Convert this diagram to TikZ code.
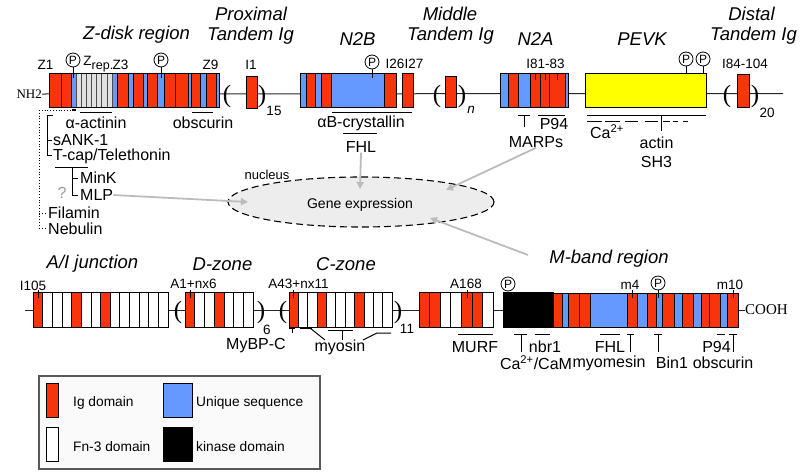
\documentclass[tikz,border=0pt]{standalone}
\usepackage{fontspec}
\setmainfont{Liberation Sans}
\newfontfamily\tmsfont{Liberation Serif}
\usetikzlibrary{arrows.meta,shapes.geometric}
\definecolor{igred}{RGB}{248,52,12}
\definecolor{ublue}{RGB}{102,153,255}
\definecolor{pevky}{RGB}{255,255,0}
\definecolor{zgray}{RGB}{224,224,224}
\definecolor{agray}{RGB}{188,188,188}
\definecolor{nucfill}{RGB}{237,237,237}
\definecolor{legfill}{RGB}{250,250,250}
\begin{document}
\begin{tikzpicture}[x=1pt,y=-1pt,
  dom/.style={draw=black,line width=0.7pt},
  igdom/.style={dom,fill=igred},
  undom/.style={dom,fill=ublue},
  fndom/.style={dom,fill=white},
  zgdom/.style={draw=black!70,line width=0.5pt,fill=zgray},
  kidom/.style={dom,fill=black},
  pvdom/.style={dom,fill=pevky},
  bb/.style={line width=1pt,black!85},
  cn/.style={line width=1pt},
  dcn/.style={line width=0.8pt,dotted},
  garrow/.style={draw=agray,line width=1.8pt,-{Triangle[length=7pt,width=7pt]}},
  tx/.style={inner sep=0pt},
  ttl/.style={tx,font=\fontsize{18.5}{20}\selectfont\itshape},
  lab/.style={tx,font=\fontsize{16}{18}\selectfont},
  sml/.style={tx,font=\fontsize{13.5}{15}\selectfont},
  parn/.style={tx,font=\tmsfont\fontsize{25}{25}\selectfont},
  pc/.style={circle,draw,line width=0.8pt,fill=white,inner sep=0pt,minimum size=14pt,font=\fontsize{12}{12}\selectfont},
]
\useasboundingbox (0,0) rectangle (800,474);

% ================= TOP ROW =================
\node[tx,font=\tmsfont\fontsize{13}{13}\selectfont,anchor=east] (nh2) at (42,94) {NH2};
\draw[bb] (nh2.east) -- (783,93.5);

% Z-disk
\foreach \a/\b/\s in {49/61/igdom,61/71/igdom,71/76/undom,112/117/undom,117/128/igdom,128/133/undom,133/143/igdom,143/147/undom,147/157/igdom,157/164/undom,164/175/igdom,175/188/igdom,188/191/undom,191/200/igdom,200/206/undom,206/216/igdom,216/219/undom}
  \draw[\s] (\a,73) rectangle (\b,107);
\foreach \i in {0,...,6}
  \draw[zgdom] ({76+\i*36/7},73) rectangle ({76+(\i+1)*36/7},107);
\draw[line width=0.8pt] (49,73) rectangle (219,107);

% proximal tandem
\node[parn] (p1l) at (227,96) {(};
\draw[igdom] (246,76) rectangle (257,108);
\node[parn] (p1r) at (262,96) {)};
\node[sml] (n15) at (274,111) {15};

% N2B
\foreach \a/\b/\s in {300/306/undom,306/315/igdom,315/321/undom,321/331/igdom,331/384/undom,384/396/igdom,402/413/igdom}
  \draw[\s] (\a,73) rectangle (\b,107);

% middle tandem
\node[parn] (p2l) at (437,96) {(};
\draw[igdom] (445,76) rectangle (456,107);
\node[parn] (p2r) at (462,96) {)};
\node[sml,font=\fontsize{13.5}{15}\selectfont\itshape] (nn) at (471,110) {n};

% N2A
\foreach \a/\b/\s in {500/508/undom,508/518/igdom,518/530/undom,530/540/igdom,540/549/igdom,549/565/igdom,565/568/undom}
  \draw[\s] (\a,73) rectangle (\b,107);
\foreach \x in {535,545,557} \draw[cn] (\x,73) -- (\x,80);

% PEVK
\draw[pvdom] (585,73) rectangle (706,107);

% distal tandem
\node[parn] (p3l) at (727,96) {(};
\draw[igdom] (737,74) rectangle (749,107);
\node[parn] (p3r) at (755,96) {)};
\node[sml] (n20) at (767,113) {20};

% phosphorylation sites top
\node[pc] (pa) at (73,60) {P};
\node[pc] (pb) at (161,60) {P};
\node[pc] (pcn) at (372,62) {P};
\node[pc] (pd) at (686,59) {P};
\node[pc] (pe) at (703,59) {P};
\draw[cn] (pa.south) -- (73,78);
\draw[cn] (pb.south) -- (161,78);
\draw[cn] (pcn.south) -- (372,78);
\draw[cn] (pd.south) -- (686,73);
\draw[cn] (pe.south) -- (703,73);

% small labels top
\node[sml] (z1) at (45.5,65) {Z1};
\node[sml] (zr) at (87.5,61) {Z};
\node[tx,font=\fontsize{12.5}{13}\selectfont] (zrep) at (102.5,67) {rep.};
\node[sml] (z3) at (120.5,65) {Z3};
\node[sml] (z9) at (210.5,65) {Z9};
\node[sml] (i1) at (251,65) {I1};
\node[sml] (i26) at (404.5,64) {I26I27};
\node[sml] (i81) at (545.5,64) {I81-83};
\node[sml] (i84) at (745,64) {I84-104};

% region titles top
\node[ttl] (tz) at (136.5,35) {Z-disk region};
\node[ttl] (tp1) at (251,13.5) {Proximal};
\node[ttl] (tp2) at (250.5,36) {Tandem Ig};
\node[ttl] (tn2b) at (357.5,39) {N2B};
\node[ttl] (tm1) at (450,13.5) {Middle};
\node[ttl] (tm2) at (450.5,36) {Tandem Ig};
\node[ttl] (tn2a) at (535.5,39) {N2A};
\node[ttl] (tpevk) at (642,39) {PEVK};
\node[ttl] (td1) at (751.5,13.5) {Distal};
\node[ttl] (td2) at (753.5,36) {Tandem Ig};

% Z-disk binding partners
\draw[dcn] (39,110) -- (72,110);
\draw[line width=1.5pt] (72,110) -- (76,110);
\draw[dcn] (39,110) -- (39,228);
\draw[dcn] (39,213) -- (45,213);
\draw[dcn] (39,228) -- (45,228);
\draw[cn] (53,115) -- (47,115) -- (47,155) -- (52,155);
\draw[cn] (47,140) -- (52,140);
\draw[cn] (80,112) -- (112,112);
\node[lab] (aact) at (96,123) {α-actinin};
\node[lab,anchor=west] (sank) at (53,140) {sANK-1};
\node[lab,anchor=west] (tcap) at (53,156) {T-cap/Telethonin};
\draw[cn] (55,167) -- (88,167);
\draw[cn] (72,167) -- (72,195) -- (78,195);
\draw[cn] (72,178) -- (78,178);
\node[lab,anchor=west] (mink) at (80,178) {MinK};
\node[lab,anchor=west] (mlp) at (80,195) {MLP};
\node[lab,text=black!40] (qm) at (62,193) {?};
\node[lab,anchor=west] (filamin) at (48,213) {Filamin};
\node[lab,anchor=west] (nebulin) at (48,229) {Nebulin};

\draw[cn] (192,112) -- (213,112);
\node[lab] (obs1) at (203,123) {obscurin};

\draw[cn] (332,112) -- (412,112);
\node[lab] (abc) at (361,123) {αB-crystallin};
\draw[cn] (343,133) -- (377,133);
\node[lab] (fhl1) at (361,147) {FHL};

% N2A partners
\draw[cn] (518,115) -- (530,115);
\draw[cn] (524,115) -- (524,127);
\draw[cn] (538,115) -- (565,115);
\node[lab] (p94a) at (554,124) {P94};
\node[lab] (marps) at (536,142) {MARPs};

% PEVK partners
\draw[cn] (587,115) -- (706,115);
\foreach \a/\b in {587/602,605/620,625/638,645/658,663/670,673/678,683/688}
  \draw[cn] (\a,121) -- (\b,121);
\draw[cn] (661,115) -- (661,131);
\node[lab] (ca1) at (607,132) {Ca\textsuperscript{2+}};
\node[lab] (actin) at (656.5,143) {actin};
\node[lab] (sh3) at (656.5,162) {SH3};

% ================= NUCLEUS =================
\node[ellipse,draw,dashed,dash pattern=on 7pt off 4pt,line width=1.1pt,fill=nucfill,
      minimum width=266pt,minimum height=50pt,inner sep=0pt] (nuc) at (361,202) {};
\node[tx,font=\fontsize{14}{16}\selectfont] (gene) at (360,205) {Gene expression};
\node[tx,font=\fontsize{13}{15}\selectfont] (nucl) at (267,175) {nucleus};

\coordinate (mlpend) at (248,202);
\coordinate (fhlend) at (360,189);
\coordinate (marpsend) at (446,190);
\coordinate (mbstart) at (528,255);
\coordinate (mbend) at (430,218);
\draw[garrow] (mlp.east) -- (mlpend);
\draw[garrow] (fhl1.south) -- (fhlend);
\draw[garrow] (marps.south) -- (marpsend);
\draw[garrow] (mbstart) -- (mbend);

% ================= BOTTOM ROW =================
\coordinate (bstart) at (25,310);
\draw[bb] (bstart) -- (745,310);

% A/I junction: 14 domains
\foreach \i/\s in {0/igdom,1/fndom,2/fndom,3/fndom,4/igdom,5/fndom,6/fndom,7/igdom,8/fndom,9/fndom,10/fndom,11/fndom,12/fndom,13/fndom}
  \draw[\s] ({33+\i*135/14},292) rectangle ({33+(\i+1)*135/14},327);

\node[parn] (p4l) at (178,312) {(};
% D-zone: 7 domains
\foreach \i/\s in {0/igdom,1/fndom,2/fndom,3/igdom,4/fndom,5/fndom,6/fndom}
  \draw[\s] ({185+\i*68/7},292) rectangle ({185+(\i+1)*68/7},327);
\node[parn] (p4r) at (261,312) {)};
\node[sml] (n6) at (267,330) {6};

\node[parn] (p5l) at (283,312) {(};
% C-zone: 11 domains
\foreach \i/\s in {0/igdom,1/fndom,2/fndom,3/igdom,4/fndom,5/fndom,6/fndom,7/igdom,8/fndom,9/fndom,10/fndom}
  \draw[\s] ({289+\i*103/11},292) rectangle ({289+(\i+1)*103/11},327);
\node[parn] (p5r) at (398,312) {)};
\node[sml] (n11) at (407,329) {11};

% A168 block: 7 domains
\foreach \i/\s in {0/igdom,1/igdom,2/fndom,3/fndom,4/igdom,5/igdom,6/fndom}
  \draw[\s] ({419+\i*74/7},292) rectangle ({419+(\i+1)*74/7},327);

% kinase
\draw[kidom] (503,292) rectangle (553,327);

% M-band
\foreach \a/\b/\s in {553/562/igdom,562/568/undom,568/579/igdom,579/590/igdom,590/627/undom,627/637/igdom,637/647/undom,647/656/igdom,656/662/undom,662/674/igdom,674/682/undom,682/693/igdom,693/701/undom,701/709/igdom,709/720/igdom,720/727/undom,727/738/igdom}
  \draw[\s] (\a,293) rectangle (\b,327);

\node[tx,font=\tmsfont\fontsize{15}{15}\selectfont,anchor=west] (cooh) at (745,310) {COOH};

% bottom ticks & labels
\foreach \x in {38,190,293,467,632,733} \draw[cn] (\x,290) -- (\x,298);
\node[sml] (i105) at (33,286) {I105};
\node[sml] (a1) at (193.5,284) {A1+nx6};
\node[sml] (a43) at (298.5,284) {A43+nx11};
\node[sml] (a168) at (466,284) {A168};
\node[sml] (m4) at (630,285) {m4};
\node[sml] (m10) at (730,285) {m10};
\node[pc] (pf) at (508,284) {P};
\node[pc] (pg) at (658,283) {P};
\draw[cn] (pg.south) -- (658,298);

% region titles bottom
\node[ttl] (taj) at (92.5,264) {A/I junction};
\node[ttl] (tdz) at (222.5,264) {D-zone};
\node[ttl] (tcz) at (346,264) {C-zone};
\node[ttl] (tmb) at (609,259) {M-band region};

% bottom partners
\draw[cn] (289,328) -- (295,328);
\draw[cn] (292,328) -- (292,333);
\draw[cn] (300,328) -- (312,328);
\draw[cn] (310,328) -- (325,340);
\draw[cn] (328,330) -- (353,330);
\draw[cn] (342,330) -- (342,340);
\draw[cn] (363,340) -- (377,333) -- (391,333);
\node[lab] (mybpc) at (256,346) {MyBP-C};
\node[lab] (myosin) at (340,347) {myosin};

\draw[cn] (458,334) -- (493,334);
\node[lab] (murf) at (475,347) {MURF};

\draw[cn] (514,334) -- (527,334);
\draw[cn] (521,334) -- (521,352);
\draw[cn] (535,334) -- (550,334);
\node[lab] (nbr1) at (545,347) {nbr1};
\node[lab] (cacam) at (536,363) {Ca\textsuperscript{2+}/CaM};

\draw[cn] (600,334) -- (620,334);
\node[lab] (fhl2) at (610,347) {FHL};
\draw[cn] (627,334) -- (634,334);
\draw[cn] (630,334) -- (630,352);
\node[lab] (myom) at (609,363) {myomesin};

\draw[cn] (654,334) -- (662,334);
\draw[cn] (658,334) -- (658,352);
\node[lab] (bin1) at (672,363) {Bin1};

\draw[cn] (717,334) -- (725,334);
\node[lab] (p94b) at (716.5,347) {P94};
\draw[cn] (729,334) -- (737,334);
\draw[cn] (733,334) -- (733,352);
\node[lab] (obs2) at (723,363) {obscurin};

% ================= LEGEND =================
\draw[line width=1.1pt,draw=black!65,fill=legfill] (39,376) rectangle (320,469);
\draw[igdom] (46,383) rectangle (58,417);
\draw[fndom] (46,427) rectangle (58,461);
\draw[undom] (163,383) rectangle (192,417);
\draw[kidom] (163,427) rectangle (192,461);
\node[tx,font=\fontsize{13.75}{15}\selectfont,anchor=west] (lig) at (73,403) {Ig domain};
\node[tx,font=\fontsize{13.75}{15}\selectfont,anchor=west] (lfn) at (73,447) {Fn-3 domain};
\node[tx,font=\fontsize{13.75}{15}\selectfont,anchor=west] (lun) at (196,403) {Unique sequence};
\node[tx,font=\fontsize{13.75}{15}\selectfont,anchor=west] (lki) at (196,447) {kinase domain};
\end{tikzpicture}
\end{document}
